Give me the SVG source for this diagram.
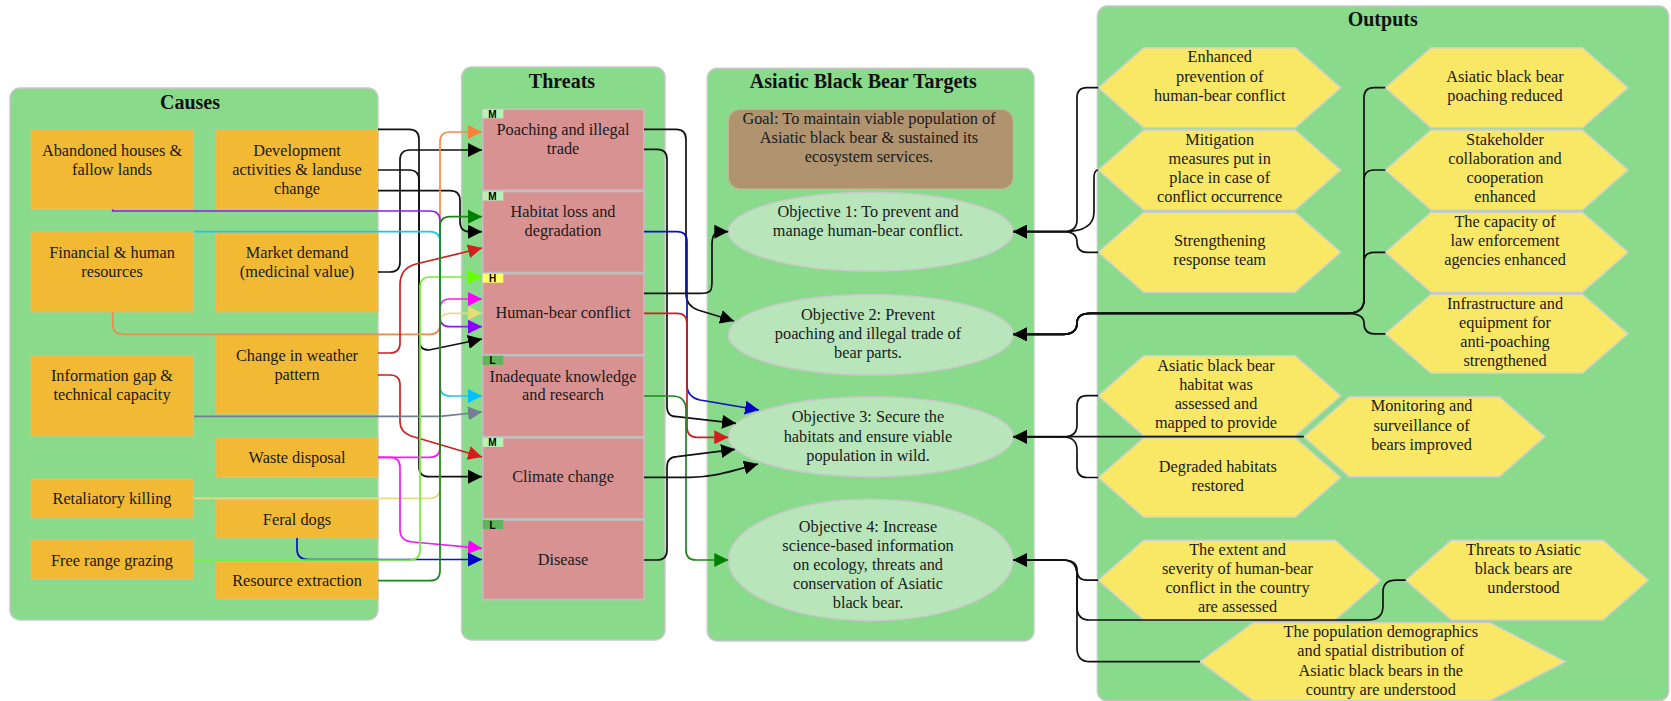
<svg xmlns="http://www.w3.org/2000/svg" width="1671" height="701" viewBox="0 0 1671 701">
<style>
.cont{fill:#89DA8B;stroke:#c8c8c8;stroke-width:1.5}
.cause{fill:#F2B934;stroke:#e6c170;stroke-width:0.8}
.threat{fill:#D99292;stroke:#c0c0c0;stroke-width:1.6}
.goal{fill:#B09470;stroke:#c8b89a;stroke-width:1}
.obj{fill:#B8E5BA;stroke:#c8c8c8;stroke-width:1.5}
.hex{fill:#F9E866;stroke:#cfcfcf;stroke-width:1.5}
.title{font-family:"Liberation Serif","Times New Roman",serif;font-weight:bold;font-size:20px;fill:#111;text-anchor:middle}
.t{font-family:"Liberation Serif","Times New Roman",serif;font-size:16.3px;fill:#1a1a1a;text-anchor:middle}
.tag{font-family:"Liberation Sans",Arial,sans-serif;font-weight:bold;font-size:10px;fill:#000;text-anchor:middle}
.tM{fill:#B6F2B6}.tH{fill:#FFFF66}.tL{fill:#5DB55D}
#connectors path{fill:none;stroke-width:1.7}
.k{stroke:#111}.or{stroke:#F28A4E}.dg{stroke:#1C861C}.rd{stroke:#D01F1F}.li{stroke:#74EE3A}.mg{stroke:#F01EF0}.kh{stroke:#E8DB83}.pu{stroke:#8F1CF2}.cy{stroke:#22C3EE}.gy{stroke:#6E7F8F}.bl{stroke:#0A12C2}
</style>
<defs>
<marker id="ak" viewBox="0 0 10 10" refX="10" refY="5" markerWidth="14" markerHeight="14" markerUnits="userSpaceOnUse" orient="auto"><path d="M0,0L10,5L0,10z" fill="#000"/></marker>
<marker id="aor" viewBox="0 0 10 10" refX="10" refY="5" markerWidth="14" markerHeight="14" markerUnits="userSpaceOnUse" orient="auto"><path d="M0,0L10,5L0,10z" fill="#F7823C"/></marker>
<marker id="adg" viewBox="0 0 10 10" refX="10" refY="5" markerWidth="14" markerHeight="14" markerUnits="userSpaceOnUse" orient="auto"><path d="M0,0L10,5L0,10z" fill="#008000"/></marker>
<marker id="ard" viewBox="0 0 10 10" refX="10" refY="5" markerWidth="14" markerHeight="14" markerUnits="userSpaceOnUse" orient="auto"><path d="M0,0L10,5L0,10z" fill="#D21E1E"/></marker>
<marker id="ali" viewBox="0 0 10 10" refX="10" refY="5" markerWidth="14" markerHeight="14" markerUnits="userSpaceOnUse" orient="auto"><path d="M0,0L10,5L0,10z" fill="#66FF00"/></marker>
<marker id="amg" viewBox="0 0 10 10" refX="10" refY="5" markerWidth="14" markerHeight="14" markerUnits="userSpaceOnUse" orient="auto"><path d="M0,0L10,5L0,10z" fill="#FF00FF"/></marker>
<marker id="akh" viewBox="0 0 10 10" refX="10" refY="5" markerWidth="14" markerHeight="14" markerUnits="userSpaceOnUse" orient="auto"><path d="M0,0L10,5L0,10z" fill="#E6DC78"/></marker>
<marker id="apu" viewBox="0 0 10 10" refX="10" refY="5" markerWidth="14" markerHeight="14" markerUnits="userSpaceOnUse" orient="auto"><path d="M0,0L10,5L0,10z" fill="#8C00FF"/></marker>
<marker id="acy" viewBox="0 0 10 10" refX="10" refY="5" markerWidth="14" markerHeight="14" markerUnits="userSpaceOnUse" orient="auto"><path d="M0,0L10,5L0,10z" fill="#00BFFF"/></marker>
<marker id="agy" viewBox="0 0 10 10" refX="10" refY="5" markerWidth="14" markerHeight="14" markerUnits="userSpaceOnUse" orient="auto"><path d="M0,0L10,5L0,10z" fill="#708090"/></marker>
<marker id="abl" viewBox="0 0 10 10" refX="10" refY="5" markerWidth="14" markerHeight="14" markerUnits="userSpaceOnUse" orient="auto"><path d="M0,0L10,5L0,10z" fill="#0000CD"/></marker>
</defs>
<rect width="1671" height="701" fill="#fff"/>

<g id="causes">
<rect class="cont" x="10" y="88" width="368" height="532" rx="10"/>
<text class="title" x="190" y="109">Causes</text>
</g>
<g id="threats">
<rect class="cont" x="461.7" y="67" width="203.3" height="573" rx="10"/>
<text class="title" x="562" y="88">Threats</text>
</g>
<g id="targets">
<rect class="cont" x="707.3" y="68.3" width="326.7" height="572.7" rx="10"/>
<text class="title" x="863.3" y="88">Asiatic Black Bear Targets</text>
</g>
<g id="outputs">
<rect class="cont" x="1097.4" y="6" width="571.3" height="695" rx="10"/>
<text class="title" x="1382.7" y="26">Outputs</text>
</g>

<g id="c-abandoned"><rect class="cause" x="31" y="130" width="162" height="79"/><text class="t"><tspan x="112" y="155.5">Abandoned houses &amp;</tspan><tspan x="112" y="174.5">fallow lands</tspan></text></g>
<g id="c-development"><rect class="cause" x="216" y="130" width="162" height="79"/><text class="t"><tspan x="297" y="155.5">Development</tspan><tspan x="297" y="174.5">activities &amp; landuse</tspan><tspan x="297" y="193.5">change</tspan></text></g>
<g id="c-financial"><rect class="cause" x="31" y="232" width="162" height="80"/><text class="t"><tspan x="112" y="258">Financial &amp; human</tspan><tspan x="112" y="277">resources</tspan></text></g>
<g id="c-market"><rect class="cause" x="216" y="232" width="162" height="80"/><text class="t"><tspan x="297" y="258">Market demand</tspan><tspan x="297" y="277">(medicinal value)</tspan></text></g>
<g id="c-weather"><rect class="cause" x="216" y="335" width="162" height="79"/><text class="t"><tspan x="297" y="360.5">Change in weather</tspan><tspan x="297" y="380">pattern</tspan></text></g>
<g id="c-infogap"><rect class="cause" x="31" y="356" width="162" height="80"/><text class="t"><tspan x="112" y="381">Information gap &amp;</tspan><tspan x="112" y="400">technical capacity</tspan></text></g>
<g id="c-waste"><rect class="cause" x="216" y="438" width="162" height="39"/><text class="t" x="297" y="463">Waste disposal</text></g>
<g id="c-retaliatory"><rect class="cause" x="31" y="479" width="162" height="39"/><text class="t" x="112" y="504">Retaliatory killing</text></g>
<g id="c-feral"><rect class="cause" x="216" y="500" width="162" height="38"/><text class="t" x="297" y="525">Feral dogs</text></g>
<g id="c-grazing"><rect class="cause" x="31" y="540" width="162" height="39"/><text class="t" x="112" y="565.5">Free range grazing</text></g>
<g id="c-resource"><rect class="cause" x="216" y="562" width="162" height="37"/><text class="t" x="297" y="586">Resource extraction</text></g>

<g id="t-poaching"><rect class="threat" x="482.7" y="109.3" width="161.3" height="81"/><rect class="tM" x="482.7" y="109.3" width="20.6" height="9"/><text class="tag" x="492.5" y="117.8">M</text><text class="t"><tspan x="563" y="135">Poaching and illegal</tspan><tspan x="563" y="154">trade</tspan></text></g>
<g id="t-habitat"><rect class="threat" x="482.7" y="191.5" width="161.3" height="81"/><rect class="tM" x="482.7" y="191.5" width="20.6" height="9"/><text class="tag" x="492.5" y="200">M</text><text class="t"><tspan x="563" y="217">Habitat loss and</tspan><tspan x="563" y="236">degradation</tspan></text></g>
<g id="t-conflict"><rect class="threat" x="482.7" y="273.7" width="161.3" height="81"/><rect class="tH" x="482.7" y="273.7" width="20.6" height="9"/><text class="tag" x="492.5" y="282.2">H</text><text class="t" x="563" y="318">Human-bear conflict</text></g>
<g id="t-knowledge"><rect class="threat" x="482.7" y="355.8" width="161.3" height="81"/><rect class="tL" x="482.7" y="355.8" width="20.6" height="9"/><text class="tag" x="492.5" y="364.3">L</text><text class="t"><tspan x="563" y="381.5">Inadequate knowledge</tspan><tspan x="563" y="400">and research</tspan></text></g>
<g id="t-climate"><rect class="threat" x="482.7" y="437.9" width="161.3" height="81"/><rect class="tM" x="482.7" y="437.9" width="20.6" height="9"/><text class="tag" x="492.5" y="446.4">M</text><text class="t" x="563" y="482">Climate change</text></g>
<g id="t-disease"><rect class="threat" x="482.7" y="520" width="161.3" height="79.5"/><rect class="tL" x="482.7" y="520" width="20.6" height="9"/><text class="tag" x="492.5" y="528.5">L</text><text class="t" x="563" y="564.5">Disease</text></g>

<g id="goal"><rect class="goal" x="728.3" y="109.3" width="285" height="79.7" rx="12"/><text class="t"><tspan x="869" y="124">Goal: To maintain viable population of</tspan><tspan x="869" y="143">Asiatic black bear &amp; sustained its</tspan><tspan x="869" y="162">ecosystem services.</tspan></text></g>
<g id="obj1"><ellipse class="obj" cx="870.8" cy="231.7" rx="142.5" ry="39.5"/><text class="t"><tspan x="868" y="217">Objective 1: To prevent and</tspan><tspan x="868" y="236">manage human-bear conflict.</tspan></text></g>
<g id="obj2"><ellipse class="obj" cx="870.8" cy="334.7" rx="142.5" ry="40.3"/><text class="t"><tspan x="868" y="320">Objective 2: Prevent</tspan><tspan x="868" y="339">poaching and illegal trade of</tspan><tspan x="868" y="358">bear parts.</tspan></text></g>
<g id="obj3"><ellipse class="obj" cx="870.8" cy="436.7" rx="142.5" ry="40"/><text class="t"><tspan x="868" y="422">Objective 3: Secure the</tspan><tspan x="868" y="441.5">habitats and ensure viable</tspan><tspan x="868" y="461">population in wild.</tspan></text></g>
<g id="obj4"><ellipse class="obj" cx="870.8" cy="560" rx="142.5" ry="60.7"/><text class="t"><tspan x="868" y="531.5">Objective 4: Increase</tspan><tspan x="868" y="550.5">science-based information</tspan><tspan x="868" y="570">on ecology, threats and</tspan><tspan x="868" y="589">conservation of Asiatic</tspan><tspan x="868" y="608">black bear.</tspan></text></g>

<g id="o-enhanced"><polygon class="hex" points="1098.2,87.7 1143.7,47.7 1295.3,47.7 1340.8,87.7 1295.3,127.7 1143.7,127.7"/><text class="t"><tspan x="1219.7" y="62">Enhanced</tspan><tspan x="1219.7" y="81.5">prevention of</tspan><tspan x="1219.7" y="100.5">human-bear conflict</tspan></text></g>
<g id="o-mitigation"><polygon class="hex" points="1098.2,170 1143.7,130 1295.3,130 1340.8,170 1295.3,210 1143.7,210"/><text class="t"><tspan x="1219.7" y="144.5">Mitigation</tspan><tspan x="1219.7" y="164">measures put in</tspan><tspan x="1219.7" y="183">place in case of</tspan><tspan x="1219.7" y="202">conflict occurrence</tspan></text></g>
<g id="o-response"><polygon class="hex" points="1098.2,252.3 1143.7,212.3 1295.3,212.3 1340.8,252.3 1295.3,292.3 1143.7,292.3"/><text class="t"><tspan x="1219.7" y="245.5">Strengthening</tspan><tspan x="1219.7" y="265">response team</tspan></text></g>
<g id="o-poaching"><polygon class="hex" points="1385.3,87.7 1430.9,47.7 1582.5,47.7 1628,87.7 1582.5,127.7 1430.9,127.7"/><text class="t"><tspan x="1505" y="81.5">Asiatic black bear</tspan><tspan x="1505" y="100.5">poaching reduced</tspan></text></g>
<g id="o-stakeholder"><polygon class="hex" points="1385.3,170 1430.9,130 1582.5,130 1628,170 1582.5,210 1430.9,210"/><text class="t"><tspan x="1505" y="144.5">Stakeholder</tspan><tspan x="1505" y="164">collaboration and</tspan><tspan x="1505" y="183">cooperation</tspan><tspan x="1505" y="202">enhanced</tspan></text></g>
<g id="o-capacity"><polygon class="hex" points="1385.3,252.3 1430.9,212.3 1582.5,212.3 1628,252.3 1582.5,292.3 1430.9,292.3"/><text class="t"><tspan x="1505" y="226.5">The capacity of</tspan><tspan x="1505" y="245.5">law enforcement</tspan><tspan x="1505" y="265">agencies enhanced</tspan></text></g>
<g id="o-infrastructure"><polygon class="hex" points="1385.3,333.8 1430.9,294.3 1582.5,294.3 1628,333.8 1582.5,373.3 1430.9,373.3"/><text class="t"><tspan x="1505" y="309">Infrastructure and</tspan><tspan x="1505" y="328">equipment for</tspan><tspan x="1505" y="347">anti-poaching</tspan><tspan x="1505" y="366">strengthened</tspan></text></g>
<g id="o-habitat"><polygon class="hex" points="1098.2,395.7 1143.7,355.7 1295.3,355.7 1340.8,395.7 1295.3,435.7 1143.7,435.7"/><text class="t"><tspan x="1216" y="370.5">Asiatic black bear</tspan><tspan x="1216" y="389.5">habitat was</tspan><tspan x="1216" y="409">assessed and</tspan><tspan x="1216" y="428">mapped to provide</tspan></text></g>
<g id="o-degraded"><polygon class="hex" points="1098.2,477.5 1143.7,437.7 1295.3,437.7 1340.8,477.5 1295.3,517.3 1143.7,517.3"/><text class="t"><tspan x="1217.8" y="471.5">Degraded habitats</tspan><tspan x="1217.8" y="490.5">restored</tspan></text></g>
<g id="o-monitoring"><polygon class="hex" points="1303.8,436.7 1349.4,396.7 1499.4,396.7 1545,436.7 1499.4,476.7 1349.4,476.7"/><text class="t"><tspan x="1421.6" y="411">Monitoring and</tspan><tspan x="1421.6" y="430.5">surveillance of</tspan><tspan x="1421.6" y="450">bears improved</tspan></text></g>
<g id="o-extent"><polygon class="hex" points="1098.2,580.2 1143.7,540.3 1335.3,540.3 1380.8,580.2 1335.3,620 1143.7,620"/><text class="t"><tspan x="1237.5" y="555">The extent and</tspan><tspan x="1237.5" y="574">severity of human-bear</tspan><tspan x="1237.5" y="593">conflict in the country</tspan><tspan x="1237.5" y="612">are assessed</tspan></text></g>
<g id="o-threats"><polygon class="hex" points="1405.7,580.2 1451.2,540.3 1603,540.3 1648.4,580.2 1603,620 1451.2,620"/><text class="t"><tspan x="1523.5" y="555">Threats to Asiatic</tspan><tspan x="1523.5" y="574">black bears are</tspan><tspan x="1523.5" y="593">understood</tspan></text></g>
<g id="o-population"><polygon class="hex" points="1200,661.7 1253,622.7 1490,622.7 1565.4,661.7 1490,700.7 1253,700.7"/><text class="t"><tspan x="1380.8" y="637">The population demographics</tspan><tspan x="1380.8" y="656">and spatial distribution of</tspan><tspan x="1380.8" y="675.5">Asiatic black bears in the</tspan><tspan x="1380.8" y="695">country are understood</tspan></text></g>

<g id="connectors">
<!-- Causes to Threats -->
<path class="k" marker-end="url(#ak)" d="M378,129.3H409Q419,129.3 419,139.3V340Q419,350 429,350L482,339"/>
<path class="k" marker-end="url(#ak)" d="M378,170H409Q419,170 419,180V466.7Q419,476.7 429,476.7H482"/>
<path class="k" marker-end="url(#ak)" d="M378,190.7H450Q460,190.7 460,200.7V221.7Q460,231.7 470,231.7H482"/>
<path class="k" marker-end="url(#ak)" d="M378,272H390Q400,272 400,262V160Q400,150 410,150H482"/>
<path class="or" marker-end="url(#aor)" d="M112.7,312V324Q112.7,334.3 122.7,334.3H430Q440,334.3 440,324.3V142Q440,132 450,132H482"/>
<path class="pu" marker-end="url(#apu)" d="M112.7,209.3V211H430Q440,211 440,221V316.7Q440,326.7 450,326.7H482"/>
<path class="cy" marker-end="url(#acy)" d="M194,231.7H430Q440,231.7 440,241.7V386Q440,396 450,396H482"/>
<path class="kh" marker-end="url(#akh)" d="M193,498.3H430Q440,498.3 440,488.3V323.3Q440,313.3 450,313.3H482"/>
<path class="mg" marker-end="url(#amg)" d="M378,457.3H430Q440,457.3 440,447.3V309Q440,299 450,299H482"/>
<path class="mg" marker-end="url(#amg)" d="M378,457.3H390Q400,457.3 400,467.3V530Q400,541 413,542L482,548.3"/>
<path class="rd" marker-end="url(#ard)" d="M378,353H390Q400,353 400,343V285Q400,268 416,264L482,248"/>
<path class="rd" marker-end="url(#ard)" d="M378,375H390Q400,375 400,385V422Q400,432 411,436L482,457"/>
<path class="gy" marker-end="url(#agy)" d="M194,416.3H440L482,412"/>
<path class="bl" marker-end="url(#abl)" d="M297,538V549Q297,559.5 308,559.5H482"/>
<path class="li" marker-end="url(#ali)" d="M193,560H410Q420,560 420,550V287Q420,277 430,277H482"/>
<path class="dg" marker-end="url(#adg)" d="M378,580.7H430Q440,580.7 440,570.7V226.7Q440,216.7 450,216.7H482"/>
<!-- Threats to Targets -->
<path class="k" marker-end="url(#ak)" d="M644,129.3H676Q686,129.3 686,139.3V293Q686,306 698,310L734,321"/>
<path class="k" marker-end="url(#ak)" d="M644,149.3H657Q667,149.3 667,159.3V406.7Q667,416.7 677,416.7L736,423.3"/>
<path class="bl" marker-end="url(#abl)" d="M644,231.7H677Q687,231.7 687,241.7V385Q687,397 700,400L759,410"/>
<path class="k" marker-end="url(#ak)" d="M644,293.3H700C712,293.3 712,290 712,280V245C712,233 714,231.7 728.3,231.7"/>
<path class="rd" marker-end="url(#ard)" d="M644,313.3H677Q687,313.3 687,323.3V427.3Q687,437.3 697,437.3H728.3"/>
<path class="dg" marker-end="url(#adg)" d="M644,396H672Q686,396 686,410V550Q686,560 696,560H728.3"/>
<path class="k" marker-end="url(#ak)" d="M644,477.3H690C715,477.3 735,470 758,464"/>
<path class="k" marker-end="url(#ak)" d="M644,560H657Q667,560 667,550V467Q667,457 677,456.7L735,449.3"/>
<!-- Outputs to Targets -->
<path class="k" marker-end="url(#ak)" d="M1098.2,87.7H1087Q1077,87.7 1077,97.7V220Q1077,231.7 1063,231.7H1013.3"/>
<path class="k" marker-end="url(#ak)" d="M1098.2,170Q1094,170 1094,178V212C1094,228 1080,231.7 1063,231.7H1013.3"/>
<path class="k" marker-end="url(#ak)" d="M1098.2,252.3H1087Q1077,252.3 1077,242Q1077,231.7 1063,231.7H1013.3"/>
<path class="k" marker-end="url(#ak)" d="M1385.3,87.7H1374Q1364,87.7 1364,98V300Q1364,313.3 1347,313.3H1090Q1077,313.3 1077,323Q1077,334.3 1063,334.3H1013.3"/>
<path class="k" marker-end="url(#ak)" d="M1385.3,170H1374Q1364,170 1364,180V300Q1364,313.3 1347,313.3H1090Q1077,313.3 1077,323Q1077,334.3 1063,334.3H1013.3"/>
<path class="k" marker-end="url(#ak)" d="M1385.3,252.3H1374Q1364,252.3 1364,262V300Q1364,313.3 1347,313.3H1090Q1077,313.3 1077,323Q1077,334.3 1063,334.3H1013.3"/>
<path class="k" marker-end="url(#ak)" d="M1385.3,333.8H1374Q1364,333.8 1364,323Q1364,313.3 1347,313.3H1090Q1077,313.3 1077,323Q1077,334.3 1063,334.3H1013.3"/>
<path class="k" marker-end="url(#ak)" d="M1098.2,395.7H1087Q1077,395.7 1077,406V425Q1077,437 1063,437H1013.3"/>
<path class="k" marker-end="url(#ak)" d="M1303.8,436.7H1013.3"/>
<path class="k" marker-end="url(#ak)" d="M1098.2,477.5H1087Q1077,477.5 1077,467V450Q1077,437 1063,437H1013.3"/>
<path class="k" marker-end="url(#ak)" d="M1098.2,580.2H1087Q1077,580.2 1077,570Q1077,560 1063,560H1013.3"/>
<path class="k" marker-end="url(#ak)" d="M1405.7,580.2H1396Q1383,580.2 1383,592V606Q1383,620 1368,620H1090Q1077,620 1077,607V575Q1077,560 1063,560H1013.3"/>
<path class="k" marker-end="url(#ak)" d="M1200,661.7H1090Q1077,661.7 1077,648V575Q1077,560 1063,560H1013.3"/>
</g>
</svg>
